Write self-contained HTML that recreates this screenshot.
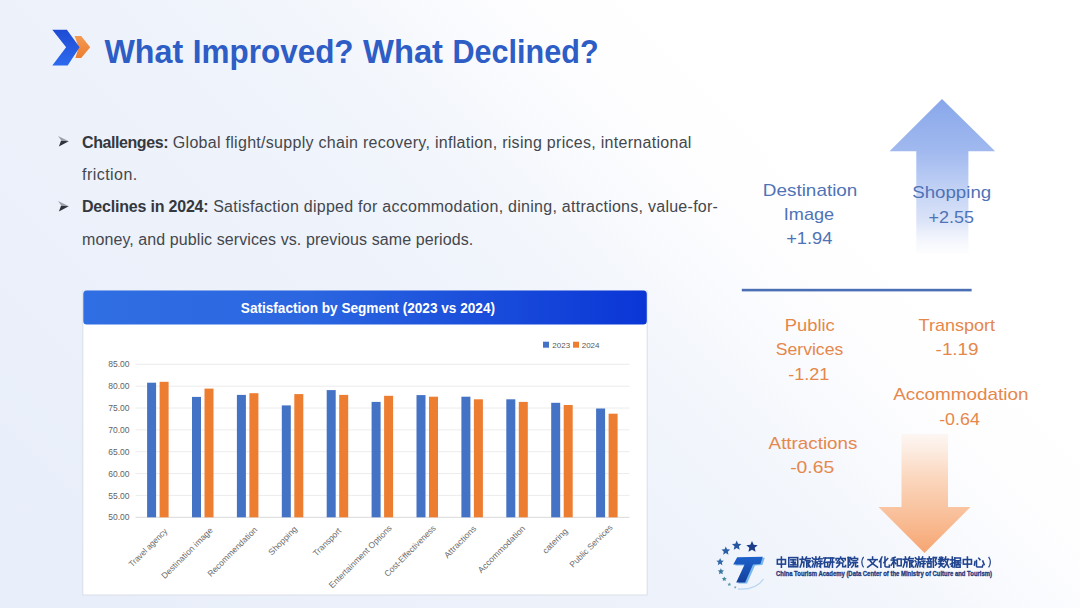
<!DOCTYPE html>
<html><head><meta charset="utf-8">
<style>
*{margin:0;padding:0;box-sizing:border-box}
html,body{width:1080px;height:608px;overflow:hidden}
body{position:relative;font-family:"Liberation Sans",sans-serif;
background:linear-gradient(45deg,#e8eefa 0%,#ecf1fa 30%,#eff3fb 45%,#f4f7fc 56%,#fafbfe 62%,#fefeff 68%,#ffffff 75%);}
.abs{position:absolute;white-space:nowrap}
.bul{position:absolute;left:82px;font-size:16px;color:#44474c;white-space:nowrap;line-height:20px;letter-spacing:0.15px}
.bul b{color:#35383d;letter-spacing:-0.42px}
</style></head>
<body>
<svg class="abs" style="left:0;top:0" width="1080" height="608" viewBox="0 0 1080 608">
<defs>
<linearGradient id="bg2" x1="0" y1="0" x2="0" y2="1"><stop offset="0" stop-color="#1f4bd4"/><stop offset="1" stop-color="#2c6aee"/></linearGradient>
<linearGradient id="og" x1="0" y1="0" x2="0" y2="1"><stop offset="0" stop-color="#f39a55"/><stop offset="1" stop-color="#ec7d2e"/></linearGradient>
<linearGradient id="tg" x1="0" y1="0" x2="0" y2="1"><stop offset="0" stop-color="#1d62cc"/><stop offset="1" stop-color="#143f9c"/></linearGradient>
<linearGradient id="hg" x1="0" y1="0" x2="1" y2="0"><stop offset="0" stop-color="#306ee3"/><stop offset="0.4" stop-color="#2b66e0"/><stop offset="1" stop-color="#0a36d6"/></linearGradient>
<linearGradient id="ug" x1="0" y1="99" x2="0" y2="253" gradientUnits="userSpaceOnUse">
  <stop offset="0" stop-color="#88a7ea"/>
  <stop offset="0.34" stop-color="#a1b9ef"/>
  <stop offset="0.6" stop-color="#c4d3f5"/>
  <stop offset="0.8" stop-color="#dce4f8"/>
  <stop offset="1" stop-color="#f6f8fd" stop-opacity="0.3"/>
</linearGradient>
<linearGradient id="dg" x1="0" y1="434" x2="0" y2="553" gradientUnits="userSpaceOnUse">
  <stop offset="0" stop-color="#fdf1e9" stop-opacity="0.6"/>
  <stop offset="0.2" stop-color="#fce6d7"/>
  <stop offset="0.35" stop-color="#fbd8c0"/>
  <stop offset="0.61" stop-color="#f9c5a2"/>
  <stop offset="0.8" stop-color="#f8b68b"/>
  <stop offset="1" stop-color="#f6a571"/>
</linearGradient>
</defs>
<path d="M74.6 35.9 L81.2 35.9 L90.2 47.2 L81.2 58.1 L75.4 58.1 L78.6 47.2 Z" fill="url(#og)"/>
<path d="M52.3 29.7 L66.9 29.7 L79.6 47.2 L67.7 65.5 L52.3 65.5 L66.1 47.3 Z" fill="url(#bg2)"/>
<text x="104.4" y="63" textLength="78.8" lengthAdjust="spacingAndGlyphs" font-family="Liberation Sans" font-weight="bold" font-size="33" fill="#2d5dc5">What</text>
<text x="192.8" y="63" textLength="160.8" lengthAdjust="spacingAndGlyphs" font-family="Liberation Sans" font-weight="bold" font-size="33" fill="#2d5dc5">Improved?</text>
<text x="363.0" y="63" textLength="80.0" lengthAdjust="spacingAndGlyphs" font-family="Liberation Sans" font-weight="bold" font-size="33" fill="#2d5dc5">What</text>
<text x="452.4" y="63" textLength="146.2" lengthAdjust="spacingAndGlyphs" font-family="Liberation Sans" font-weight="bold" font-size="33" fill="#2d5dc5">Declined?</text>
<path d="M58 136 L68.8 141.2 L61.5 140.8 Z" fill="#9aa0a8"/><path d="M61 140.8 L68.8 141.2 L58.9 146.5 Z" fill="#2f333a"/>
<path d="M58 201 L68.8 206.2 L61.5 205.8 Z" fill="#9aa0a8"/><path d="M61 205.8 L68.8 206.2 L58.9 211.5 Z" fill="#2f333a"/>
<rect x="82.8" y="291" width="564.4" height="304" fill="#ffffff" stroke="#d9dee7" stroke-width="1"/>
<rect x="83.3" y="290.5" width="563.5" height="34" rx="3.5" fill="url(#hg)"/>
<text x="240.8" y="312.7" textLength="254.2" lengthAdjust="spacingAndGlyphs" font-family="Liberation Sans" font-weight="bold" font-size="14" fill="#ffffff">Satisfaction by Segment (2023 vs 2024)</text>
<rect x="543" y="341.7" width="6" height="6" fill="#4472c4"/>
<text x="552.3" y="347.6" font-family="Liberation Sans" font-size="8" fill="#595959">2023</text>
<rect x="573" y="341.7" width="6" height="6" fill="#ed7d31"/>
<text x="581.7" y="347.6" font-family="Liberation Sans" font-size="8" fill="#595959">2024</text>
<line x1="135.5" x2="629.5" y1="517.3" y2="517.3" stroke="#d9d9d9" stroke-width="1"/>
<text x="129.5" y="520.4" text-anchor="end" font-family="Liberation Sans" font-size="8.5" fill="#636363">50.00</text>
<line x1="135.5" x2="629.5" y1="495.4" y2="495.4" stroke="#ececec" stroke-width="1"/>
<text x="129.5" y="498.5" text-anchor="end" font-family="Liberation Sans" font-size="8.5" fill="#636363">55.00</text>
<line x1="135.5" x2="629.5" y1="473.6" y2="473.6" stroke="#ececec" stroke-width="1"/>
<text x="129.5" y="476.7" text-anchor="end" font-family="Liberation Sans" font-size="8.5" fill="#636363">60.00</text>
<line x1="135.5" x2="629.5" y1="451.7" y2="451.7" stroke="#ececec" stroke-width="1"/>
<text x="129.5" y="454.8" text-anchor="end" font-family="Liberation Sans" font-size="8.5" fill="#636363">65.00</text>
<line x1="135.5" x2="629.5" y1="429.9" y2="429.9" stroke="#ececec" stroke-width="1"/>
<text x="129.5" y="433.0" text-anchor="end" font-family="Liberation Sans" font-size="8.5" fill="#636363">70.00</text>
<line x1="135.5" x2="629.5" y1="408.0" y2="408.0" stroke="#ececec" stroke-width="1"/>
<text x="129.5" y="411.1" text-anchor="end" font-family="Liberation Sans" font-size="8.5" fill="#636363">75.00</text>
<line x1="135.5" x2="629.5" y1="386.2" y2="386.2" stroke="#ececec" stroke-width="1"/>
<text x="129.5" y="389.3" text-anchor="end" font-family="Liberation Sans" font-size="8.5" fill="#636363">80.00</text>
<line x1="135.5" x2="629.5" y1="364.3" y2="364.3" stroke="#ececec" stroke-width="1"/>
<text x="129.5" y="367.4" text-anchor="end" font-family="Liberation Sans" font-size="8.5" fill="#636363">85.00</text>
<rect x="147.1" y="382.7" width="9" height="134.6" fill="#4472c4"/>
<rect x="159.6" y="381.8" width="9" height="135.5" fill="#ed7d31"/>
<text x="167.8" y="531.9" text-anchor="end" textLength="50.3" lengthAdjust="spacingAndGlyphs" transform="rotate(-45 167.8 531.9)" font-family="Liberation Sans" font-size="8.5" fill="#6b6b6b">Travel agency</text>
<rect x="192.0" y="396.9" width="9" height="120.4" fill="#4472c4"/>
<rect x="204.5" y="388.6" width="9" height="128.7" fill="#ed7d31"/>
<text x="213.3" y="530.9" text-anchor="end" textLength="68.5" lengthAdjust="spacingAndGlyphs" transform="rotate(-45 213.3 530.9)" font-family="Liberation Sans" font-size="8.5" fill="#6b6b6b">Destination image</text>
<rect x="236.9" y="394.9" width="9" height="122.4" fill="#4472c4"/>
<rect x="249.4" y="393.2" width="9" height="124.1" fill="#ed7d31"/>
<text x="257.8" y="530.4" text-anchor="end" textLength="66.3" lengthAdjust="spacingAndGlyphs" transform="rotate(-45 257.8 530.4)" font-family="Liberation Sans" font-size="8.5" fill="#6b6b6b">Recommendation</text>
<rect x="281.8" y="405.4" width="9" height="111.9" fill="#4472c4"/>
<rect x="294.3" y="394.1" width="9" height="123.2" fill="#ed7d31"/>
<text x="297.8" y="529.7" text-anchor="end" textLength="36.8" lengthAdjust="spacingAndGlyphs" transform="rotate(-45 297.8 529.7)" font-family="Liberation Sans" font-size="8.5" fill="#6b6b6b">Shopping</text>
<rect x="326.7" y="390.1" width="9" height="127.2" fill="#4472c4"/>
<rect x="339.2" y="394.9" width="9" height="122.4" fill="#ed7d31"/>
<text x="341.8" y="531.4" text-anchor="end" textLength="35.9" lengthAdjust="spacingAndGlyphs" transform="rotate(-45 341.8 531.4)" font-family="Liberation Sans" font-size="8.5" fill="#6b6b6b">Transport</text>
<rect x="371.6" y="401.9" width="9" height="115.4" fill="#4472c4"/>
<rect x="384.1" y="395.8" width="9" height="121.5" fill="#ed7d31"/>
<text x="392.4" y="528.7" text-anchor="end" textLength="84.9" lengthAdjust="spacingAndGlyphs" transform="rotate(-45 392.4 528.7)" font-family="Liberation Sans" font-size="8.5" fill="#6b6b6b">Entertainment Options</text>
<rect x="416.5" y="395.1" width="9" height="122.2" fill="#4472c4"/>
<rect x="429.0" y="396.7" width="9" height="120.6" fill="#ed7d31"/>
<text x="436.4" y="528.7" text-anchor="end" textLength="68.7" lengthAdjust="spacingAndGlyphs" transform="rotate(-45 436.4 528.7)" font-family="Liberation Sans" font-size="8.5" fill="#6b6b6b">Cost-Effectiveness</text>
<rect x="461.4" y="396.7" width="9" height="120.6" fill="#4472c4"/>
<rect x="473.9" y="399.3" width="9" height="118.0" fill="#ed7d31"/>
<text x="476.9" y="529.2" text-anchor="end" textLength="41.7" lengthAdjust="spacingAndGlyphs" transform="rotate(-45 476.9 529.2)" font-family="Liberation Sans" font-size="8.5" fill="#6b6b6b">Attractions</text>
<rect x="506.3" y="399.3" width="9" height="118.0" fill="#4472c4"/>
<rect x="518.8" y="401.9" width="9" height="115.4" fill="#ed7d31"/>
<text x="525.8" y="529.0" text-anchor="end" textLength="63" lengthAdjust="spacingAndGlyphs" transform="rotate(-45 525.8 529.0)" font-family="Liberation Sans" font-size="8.5" fill="#6b6b6b">Accommodation</text>
<rect x="551.2" y="402.8" width="9" height="114.5" fill="#4472c4"/>
<rect x="563.7" y="405.0" width="9" height="112.3" fill="#ed7d31"/>
<text x="568.4" y="531.7" text-anchor="end" textLength="31.8" lengthAdjust="spacingAndGlyphs" transform="rotate(-45 568.4 531.7)" font-family="Liberation Sans" font-size="8.5" fill="#6b6b6b">catering</text>
<rect x="596.1" y="408.5" width="9" height="108.8" fill="#4472c4"/>
<rect x="608.6" y="413.7" width="9" height="103.6" fill="#ed7d31"/>
<text x="613.1" y="528.0" text-anchor="end" textLength="56.6" lengthAdjust="spacingAndGlyphs" transform="rotate(-45 613.1 528.0)" font-family="Liberation Sans" font-size="8.5" fill="#6b6b6b">Public Services</text>
<path d="M942 99 L995.2 151.3 L968.4 151.3 L968.4 253 L916.3 253 L916.3 151.3 L889.5 151.3 Z" fill="url(#ug)"/>
<path d="M901.5 434 L948 434 L948 507 L970.5 507 L924.5 553 L878.5 507 L901.5 507 Z" fill="url(#dg)"/>
<rect x="741.8" y="288.8" width="229.8" height="2.6" fill="#4a6fb5"/>
<text x="762.8" y="195.7" textLength="94.6" lengthAdjust="spacingAndGlyphs" font-family="Liberation Sans" font-size="17" fill="#4f73b6">Destination</text>
<text x="783.8" y="220.0" textLength="50.4" lengthAdjust="spacingAndGlyphs" font-family="Liberation Sans" font-size="17" fill="#4f73b6">Image</text>
<text x="786.2" y="243.8" textLength="46.2" lengthAdjust="spacingAndGlyphs" font-family="Liberation Sans" font-size="17" fill="#4f73b6">+1.94</text>
<text x="912.2" y="198.3" textLength="79.0" lengthAdjust="spacingAndGlyphs" font-family="Liberation Sans" font-size="17" fill="#4f73b6">Shopping</text>
<text x="928.6" y="222.8" textLength="45.4" lengthAdjust="spacingAndGlyphs" font-family="Liberation Sans" font-size="17" fill="#4f73b6">+2.55</text>
<text x="784.8" y="330.6" textLength="50.0" lengthAdjust="spacingAndGlyphs" font-family="Liberation Sans" font-size="17" fill="#e5874b">Public</text>
<text x="775.8" y="355.2" textLength="67.4" lengthAdjust="spacingAndGlyphs" font-family="Liberation Sans" font-size="17" fill="#e5874b">Services</text>
<text x="788.2" y="379.8" textLength="41.2" lengthAdjust="spacingAndGlyphs" font-family="Liberation Sans" font-size="17" fill="#e5874b">-1.21</text>
<text x="918.6" y="330.5" textLength="76.4" lengthAdjust="spacingAndGlyphs" font-family="Liberation Sans" font-size="17" fill="#e5874b">Transport</text>
<text x="935.6" y="354.8" textLength="43.0" lengthAdjust="spacingAndGlyphs" font-family="Liberation Sans" font-size="17" fill="#e5874b">-1.19</text>
<text x="893.2" y="400.2" textLength="135.2" lengthAdjust="spacingAndGlyphs" font-family="Liberation Sans" font-size="17" fill="#e5874b">Accommodation</text>
<text x="939.2" y="424.5" textLength="40.6" lengthAdjust="spacingAndGlyphs" font-family="Liberation Sans" font-size="17" fill="#e5874b">-0.64</text>
<text x="768.6" y="448.9" textLength="88.8" lengthAdjust="spacingAndGlyphs" font-family="Liberation Sans" font-size="17" fill="#e5874b">Attractions</text>
<text x="790.2" y="472.7" textLength="44.0" lengthAdjust="spacingAndGlyphs" font-family="Liberation Sans" font-size="17" fill="#e5874b">-0.65</text>
<polygon points="736.70,540.60 738.08,543.70 741.46,544.05 738.93,546.33 739.64,549.65 736.70,547.95 733.76,549.65 734.47,546.33 731.94,544.05 735.32,543.70" fill="#2556a2"/>
<polygon points="752.00,541.00 753.66,544.72 757.71,545.15 754.68,547.87 755.53,551.85 752.00,549.82 748.47,551.85 749.32,547.87 746.29,545.15 750.34,544.72" fill="#1c3d8a"/>
<polygon points="725.80,546.50 727.04,549.29 730.08,549.61 727.81,551.65 728.45,554.64 725.80,553.12 723.15,554.64 723.79,551.65 721.52,549.61 724.56,549.29" fill="#2a5ea6"/>
<polygon points="720.10,558.10 721.18,560.52 723.81,560.79 721.84,562.57 722.39,565.16 720.10,563.83 717.81,565.16 718.36,562.57 716.39,560.79 719.02,560.52" fill="#3068a8"/>
<polygon points="720.90,568.30 721.81,570.35 724.04,570.58 722.38,572.08 722.84,574.27 720.90,573.15 718.96,574.27 719.42,572.08 717.76,570.58 719.99,570.35" fill="#3a78a2"/>
<polygon points="724.30,576.40 725.02,578.01 726.77,578.20 725.46,579.38 725.83,581.10 724.30,580.22 722.77,581.10 723.14,579.38 721.83,578.20 723.58,578.01" fill="#4588a0"/>
<polygon points="729.30,582.40 729.85,583.64 731.20,583.78 730.19,584.69 730.48,586.02 729.30,585.34 728.12,586.02 728.41,584.69 727.40,583.78 728.75,583.64" fill="#5596a2"/>
<polygon points="735.20,585.90 735.59,586.77 736.53,586.87 735.83,587.50 736.02,588.43 735.20,587.96 734.38,588.43 734.57,587.50 733.87,586.87 734.81,586.77" fill="#6aa0b0"/>
<path d="M738 589 Q756 590 763.5 579" fill="none" stroke="#b9d6f2" stroke-width="1.3"/>
<path d="M739.2 558.2 L764.8 557.7 L762.4 565.1 L755 565.6 L747.1 583.4 L738.2 583.4 L746.6 565.6 L735.2 565.6 Z" fill="#79b8ec"/>
<path d="M737.2 557.2 L762.8 556.7 L760.4 564.1 L753 564.6 L745.1 582.4 L736.2 582.4 L744.6 564.6 L733.2 564.6 Z" fill="url(#tg)"/>
<rect x="777.32" y="559.55" width="8.16" height="4.59" fill="none" stroke="#21448f" stroke-width="1.55"/><polyline points="781.40,557.00 781.40,567.20" fill="none" stroke="#21448f" stroke-width="1.55" stroke-linecap="square" stroke-linejoin="miter"/>
<rect x="788.76" y="557.61" width="8.98" height="9.18" fill="none" stroke="#21448f" stroke-width="1.55"/><polyline points="790.70,559.86 795.80,559.86" fill="none" stroke="#21448f" stroke-width="1.55" stroke-linecap="square" stroke-linejoin="miter"/><polyline points="791.21,562.30 795.29,562.30" fill="none" stroke="#21448f" stroke-width="1.55" stroke-linecap="square" stroke-linejoin="miter"/><polyline points="790.50,564.85 796.00,564.85" fill="none" stroke="#21448f" stroke-width="1.55" stroke-linecap="square" stroke-linejoin="miter"/><polyline points="793.25,559.86 793.25,564.85" fill="none" stroke="#21448f" stroke-width="1.55" stroke-linecap="square" stroke-linejoin="miter"/><polyline points="794.68,563.22 795.39,563.94" fill="none" stroke="#21448f" stroke-width="1.55" stroke-linecap="square" stroke-linejoin="miter"/>
<polyline points="802.35,557.00 802.65,558.22" fill="none" stroke="#21448f" stroke-width="1.55" stroke-linecap="square" stroke-linejoin="miter"/><polyline points="800.00,559.35 804.49,559.35" fill="none" stroke="#21448f" stroke-width="1.55" stroke-linecap="square" stroke-linejoin="miter"/><polyline points="801.84,559.35 801.63,563.12 800.20,567.00" fill="none" stroke="#21448f" stroke-width="1.55" stroke-linecap="square" stroke-linejoin="miter"/><polyline points="801.73,562.10 803.98,562.10 803.67,566.79" fill="none" stroke="#21448f" stroke-width="1.55" stroke-linecap="square" stroke-linejoin="miter"/><polyline points="806.43,557.00 805.20,560.06" fill="none" stroke="#21448f" stroke-width="1.55" stroke-linecap="square" stroke-linejoin="miter"/><polyline points="805.81,558.63 810.20,558.63" fill="none" stroke="#21448f" stroke-width="1.55" stroke-linecap="square" stroke-linejoin="miter"/><polyline points="806.12,560.67 809.69,560.67" fill="none" stroke="#21448f" stroke-width="1.55" stroke-linecap="square" stroke-linejoin="miter"/><polyline points="806.73,560.67 806.73,567.20" fill="none" stroke="#21448f" stroke-width="1.55" stroke-linecap="square" stroke-linejoin="miter"/><polyline points="808.16,561.90 808.16,566.38" fill="none" stroke="#21448f" stroke-width="1.55" stroke-linecap="square" stroke-linejoin="miter"/><polyline points="808.16,563.63 810.20,567.20" fill="none" stroke="#21448f" stroke-width="1.55" stroke-linecap="square" stroke-linejoin="miter"/><polyline points="810.10,561.69 808.57,563.12" fill="none" stroke="#21448f" stroke-width="1.55" stroke-linecap="square" stroke-linejoin="miter"/>
<polyline points="812.36,557.82 813.28,558.84" fill="none" stroke="#21448f" stroke-width="1.55" stroke-linecap="square" stroke-linejoin="miter"/><polyline points="812.05,560.88 812.97,561.90" fill="none" stroke="#21448f" stroke-width="1.55" stroke-linecap="square" stroke-linejoin="miter"/><polyline points="812.16,566.79 813.38,563.63" fill="none" stroke="#21448f" stroke-width="1.55" stroke-linecap="square" stroke-linejoin="miter"/><polyline points="815.83,557.00 816.03,558.22" fill="none" stroke="#21448f" stroke-width="1.55" stroke-linecap="square" stroke-linejoin="miter"/><polyline points="814.40,559.24 817.77,559.24" fill="none" stroke="#21448f" stroke-width="1.55" stroke-linecap="square" stroke-linejoin="miter"/><polyline points="815.52,559.24 815.32,563.12 814.40,567.00" fill="none" stroke="#21448f" stroke-width="1.55" stroke-linecap="square" stroke-linejoin="miter"/><polyline points="815.42,562.10 817.26,562.10 816.95,566.69" fill="none" stroke="#21448f" stroke-width="1.55" stroke-linecap="square" stroke-linejoin="miter"/><polyline points="819.60,557.00 818.58,559.55" fill="none" stroke="#21448f" stroke-width="1.55" stroke-linecap="square" stroke-linejoin="miter"/><polyline points="819.09,558.84 822.05,558.84" fill="none" stroke="#21448f" stroke-width="1.55" stroke-linecap="square" stroke-linejoin="miter"/><polyline points="818.89,561.28 821.85,561.28" fill="none" stroke="#21448f" stroke-width="1.55" stroke-linecap="square" stroke-linejoin="miter"/><polyline points="820.52,561.28 820.52,567.00 819.50,566.38" fill="none" stroke="#21448f" stroke-width="1.55" stroke-linecap="square" stroke-linejoin="miter"/><polyline points="818.48,563.73 822.05,563.73" fill="none" stroke="#21448f" stroke-width="1.55" stroke-linecap="square" stroke-linejoin="miter"/>
<polyline points="823.70,558.02 827.78,558.02" fill="none" stroke="#21448f" stroke-width="1.55" stroke-linecap="square" stroke-linejoin="miter"/><polyline points="825.54,558.02 823.90,563.12" fill="none" stroke="#21448f" stroke-width="1.55" stroke-linecap="square" stroke-linejoin="miter"/><rect x="824.62" y="562.30" width="3.06" height="4.49" fill="none" stroke="#21448f" stroke-width="1.55"/><polyline points="828.80,558.02 833.90,558.02" fill="none" stroke="#21448f" stroke-width="1.55" stroke-linecap="square" stroke-linejoin="miter"/><polyline points="828.39,562.10 833.90,562.10" fill="none" stroke="#21448f" stroke-width="1.55" stroke-linecap="square" stroke-linejoin="miter"/><polyline points="830.64,558.02 830.64,562.10 829.00,567.20" fill="none" stroke="#21448f" stroke-width="1.55" stroke-linecap="square" stroke-linejoin="miter"/><polyline points="832.47,558.02 832.47,567.20" fill="none" stroke="#21448f" stroke-width="1.55" stroke-linecap="square" stroke-linejoin="miter"/>
<polyline points="840.65,557.00 840.65,558.02" fill="none" stroke="#21448f" stroke-width="1.55" stroke-linecap="square" stroke-linejoin="miter"/><polyline points="836.06,560.06 836.06,558.53 845.24,558.53 845.24,560.06" fill="none" stroke="#21448f" stroke-width="1.55" stroke-linecap="square" stroke-linejoin="miter"/><polyline points="839.12,559.35 837.59,561.59" fill="none" stroke="#21448f" stroke-width="1.55" stroke-linecap="square" stroke-linejoin="miter"/><polyline points="841.87,559.35 843.71,561.59" fill="none" stroke="#21448f" stroke-width="1.55" stroke-linecap="square" stroke-linejoin="miter"/><polyline points="836.57,562.92 842.69,562.92 842.69,566.69 845.55,566.69 845.55,565.47" fill="none" stroke="#21448f" stroke-width="1.55" stroke-linecap="square" stroke-linejoin="miter"/><polyline points="839.63,561.59 839.43,564.65 836.77,567.20" fill="none" stroke="#21448f" stroke-width="1.55" stroke-linecap="square" stroke-linejoin="miter"/>
<polyline points="848.22,557.51 848.22,567.20" fill="none" stroke="#21448f" stroke-width="1.55" stroke-linecap="square" stroke-linejoin="miter"/><polyline points="848.22,557.61 850.46,557.61 849.44,561.08 850.77,563.63 849.64,565.16" fill="none" stroke="#21448f" stroke-width="1.55" stroke-linecap="square" stroke-linejoin="miter"/><polyline points="854.54,557.00 854.54,558.02" fill="none" stroke="#21448f" stroke-width="1.55" stroke-linecap="square" stroke-linejoin="miter"/><polyline points="851.68,559.65 851.68,558.53 857.60,558.53 857.60,559.65" fill="none" stroke="#21448f" stroke-width="1.55" stroke-linecap="square" stroke-linejoin="miter"/><polyline points="853.01,560.67 856.38,560.67" fill="none" stroke="#21448f" stroke-width="1.55" stroke-linecap="square" stroke-linejoin="miter"/><polyline points="851.99,562.61 857.40,562.61" fill="none" stroke="#21448f" stroke-width="1.55" stroke-linecap="square" stroke-linejoin="miter"/><polyline points="853.83,562.61 853.42,565.16 851.68,567.20" fill="none" stroke="#21448f" stroke-width="1.55" stroke-linecap="square" stroke-linejoin="miter"/><polyline points="855.56,562.61 855.56,566.69 857.60,566.69 857.60,565.67" fill="none" stroke="#21448f" stroke-width="1.55" stroke-linecap="square" stroke-linejoin="miter"/>
<path d="M863.6 556.8 Q860 562 863.6 567.3" fill="none" stroke="#21448f" stroke-width="1.2"/>
<polyline points="872.60,557.00 872.60,558.33" fill="none" stroke="#21448f" stroke-width="1.55" stroke-linecap="square" stroke-linejoin="miter"/><polyline points="868.01,559.65 877.19,559.65" fill="none" stroke="#21448f" stroke-width="1.55" stroke-linecap="square" stroke-linejoin="miter"/><polyline points="870.05,560.57 872.60,563.63 877.50,567.20" fill="none" stroke="#21448f" stroke-width="1.55" stroke-linecap="square" stroke-linejoin="miter"/><polyline points="875.15,560.57 872.60,563.63 867.70,567.20" fill="none" stroke="#21448f" stroke-width="1.55" stroke-linecap="square" stroke-linejoin="miter"/>
<polyline points="882.00,557.00 879.55,561.59" fill="none" stroke="#21448f" stroke-width="1.55" stroke-linecap="square" stroke-linejoin="miter"/><polyline points="880.88,559.86 880.88,567.20" fill="none" stroke="#21448f" stroke-width="1.55" stroke-linecap="square" stroke-linejoin="miter"/><polyline points="887.71,558.53 883.94,562.61" fill="none" stroke="#21448f" stroke-width="1.55" stroke-linecap="square" stroke-linejoin="miter"/><polyline points="884.96,557.00 884.96,566.18 885.98,567.00 889.35,567.00 889.35,565.16" fill="none" stroke="#21448f" stroke-width="1.55" stroke-linecap="square" stroke-linejoin="miter"/>
<polyline points="895.08,557.31 892.22,558.22" fill="none" stroke="#21448f" stroke-width="1.55" stroke-linecap="square" stroke-linejoin="miter"/><polyline points="891.20,560.06 896.10,560.06" fill="none" stroke="#21448f" stroke-width="1.55" stroke-linecap="square" stroke-linejoin="miter"/><polyline points="893.75,557.82 893.75,567.20" fill="none" stroke="#21448f" stroke-width="1.55" stroke-linecap="square" stroke-linejoin="miter"/><polyline points="893.75,561.08 891.20,565.16" fill="none" stroke="#21448f" stroke-width="1.55" stroke-linecap="square" stroke-linejoin="miter"/><polyline points="893.95,561.59 895.79,563.63" fill="none" stroke="#21448f" stroke-width="1.55" stroke-linecap="square" stroke-linejoin="miter"/><rect x="897.32" y="559.04" width="3.88" height="6.73" fill="none" stroke="#21448f" stroke-width="1.55"/>
<polyline points="905.40,557.00 905.70,558.22" fill="none" stroke="#21448f" stroke-width="1.55" stroke-linecap="square" stroke-linejoin="miter"/><polyline points="903.05,559.35 907.54,559.35" fill="none" stroke="#21448f" stroke-width="1.55" stroke-linecap="square" stroke-linejoin="miter"/><polyline points="904.89,559.35 904.68,563.12 903.25,567.00" fill="none" stroke="#21448f" stroke-width="1.55" stroke-linecap="square" stroke-linejoin="miter"/><polyline points="904.78,562.10 907.03,562.10 906.72,566.79" fill="none" stroke="#21448f" stroke-width="1.55" stroke-linecap="square" stroke-linejoin="miter"/><polyline points="909.48,557.00 908.25,560.06" fill="none" stroke="#21448f" stroke-width="1.55" stroke-linecap="square" stroke-linejoin="miter"/><polyline points="908.86,558.63 913.25,558.63" fill="none" stroke="#21448f" stroke-width="1.55" stroke-linecap="square" stroke-linejoin="miter"/><polyline points="909.17,560.67 912.74,560.67" fill="none" stroke="#21448f" stroke-width="1.55" stroke-linecap="square" stroke-linejoin="miter"/><polyline points="909.78,560.67 909.78,567.20" fill="none" stroke="#21448f" stroke-width="1.55" stroke-linecap="square" stroke-linejoin="miter"/><polyline points="911.21,561.90 911.21,566.38" fill="none" stroke="#21448f" stroke-width="1.55" stroke-linecap="square" stroke-linejoin="miter"/><polyline points="911.21,563.63 913.25,567.20" fill="none" stroke="#21448f" stroke-width="1.55" stroke-linecap="square" stroke-linejoin="miter"/><polyline points="913.15,561.69 911.62,563.12" fill="none" stroke="#21448f" stroke-width="1.55" stroke-linecap="square" stroke-linejoin="miter"/>
<polyline points="915.41,557.82 916.33,558.84" fill="none" stroke="#21448f" stroke-width="1.55" stroke-linecap="square" stroke-linejoin="miter"/><polyline points="915.10,560.88 916.02,561.90" fill="none" stroke="#21448f" stroke-width="1.55" stroke-linecap="square" stroke-linejoin="miter"/><polyline points="915.21,566.79 916.43,563.63" fill="none" stroke="#21448f" stroke-width="1.55" stroke-linecap="square" stroke-linejoin="miter"/><polyline points="918.88,557.00 919.08,558.22" fill="none" stroke="#21448f" stroke-width="1.55" stroke-linecap="square" stroke-linejoin="miter"/><polyline points="917.45,559.24 920.82,559.24" fill="none" stroke="#21448f" stroke-width="1.55" stroke-linecap="square" stroke-linejoin="miter"/><polyline points="918.57,559.24 918.37,563.12 917.45,567.00" fill="none" stroke="#21448f" stroke-width="1.55" stroke-linecap="square" stroke-linejoin="miter"/><polyline points="918.47,562.10 920.31,562.10 920.00,566.69" fill="none" stroke="#21448f" stroke-width="1.55" stroke-linecap="square" stroke-linejoin="miter"/><polyline points="922.65,557.00 921.63,559.55" fill="none" stroke="#21448f" stroke-width="1.55" stroke-linecap="square" stroke-linejoin="miter"/><polyline points="922.14,558.84 925.10,558.84" fill="none" stroke="#21448f" stroke-width="1.55" stroke-linecap="square" stroke-linejoin="miter"/><polyline points="921.94,561.28 924.90,561.28" fill="none" stroke="#21448f" stroke-width="1.55" stroke-linecap="square" stroke-linejoin="miter"/><polyline points="923.57,561.28 923.57,567.00 922.55,566.38" fill="none" stroke="#21448f" stroke-width="1.55" stroke-linecap="square" stroke-linejoin="miter"/><polyline points="921.53,563.73 925.10,563.73" fill="none" stroke="#21448f" stroke-width="1.55" stroke-linecap="square" stroke-linejoin="miter"/>
<polyline points="929.30,557.00 929.30,558.02" fill="none" stroke="#21448f" stroke-width="1.55" stroke-linecap="square" stroke-linejoin="miter"/><polyline points="927.26,558.84 931.65,558.84" fill="none" stroke="#21448f" stroke-width="1.55" stroke-linecap="square" stroke-linejoin="miter"/><polyline points="928.08,559.55 928.59,561.08" fill="none" stroke="#21448f" stroke-width="1.55" stroke-linecap="square" stroke-linejoin="miter"/><polyline points="930.83,559.55 930.32,561.08" fill="none" stroke="#21448f" stroke-width="1.55" stroke-linecap="square" stroke-linejoin="miter"/><polyline points="926.75,561.90 931.85,561.90" fill="none" stroke="#21448f" stroke-width="1.55" stroke-linecap="square" stroke-linejoin="miter"/><rect x="927.57" y="563.43" width="3.47" height="3.57" fill="none" stroke="#21448f" stroke-width="1.55"/><polyline points="933.38,557.51 933.38,567.20" fill="none" stroke="#21448f" stroke-width="1.55" stroke-linecap="square" stroke-linejoin="miter"/><polyline points="933.38,557.61 936.44,557.61 935.22,561.08 936.75,563.63 935.42,565.16" fill="none" stroke="#21448f" stroke-width="1.55" stroke-linecap="square" stroke-linejoin="miter"/>
<polyline points="939.62,557.51 940.44,558.84" fill="none" stroke="#21448f" stroke-width="1.55" stroke-linecap="square" stroke-linejoin="miter"/><polyline points="942.68,557.51 941.97,558.84" fill="none" stroke="#21448f" stroke-width="1.55" stroke-linecap="square" stroke-linejoin="miter"/><polyline points="938.60,559.45 943.70,559.45" fill="none" stroke="#21448f" stroke-width="1.55" stroke-linecap="square" stroke-linejoin="miter"/><polyline points="941.15,557.00 941.15,561.59" fill="none" stroke="#21448f" stroke-width="1.55" stroke-linecap="square" stroke-linejoin="miter"/><polyline points="941.15,559.55 938.91,561.59" fill="none" stroke="#21448f" stroke-width="1.55" stroke-linecap="square" stroke-linejoin="miter"/><polyline points="941.25,559.86 943.50,561.28" fill="none" stroke="#21448f" stroke-width="1.55" stroke-linecap="square" stroke-linejoin="miter"/><polyline points="938.60,563.73 943.70,563.73" fill="none" stroke="#21448f" stroke-width="1.55" stroke-linecap="square" stroke-linejoin="miter"/><polyline points="940.64,562.10 939.82,564.14 943.19,567.00" fill="none" stroke="#21448f" stroke-width="1.55" stroke-linecap="square" stroke-linejoin="miter"/><polyline points="942.48,563.73 939.11,567.20" fill="none" stroke="#21448f" stroke-width="1.55" stroke-linecap="square" stroke-linejoin="miter"/><polyline points="945.74,557.00 944.72,560.57" fill="none" stroke="#21448f" stroke-width="1.55" stroke-linecap="square" stroke-linejoin="miter"/><polyline points="945.23,559.35 948.80,559.35" fill="none" stroke="#21448f" stroke-width="1.55" stroke-linecap="square" stroke-linejoin="miter"/><polyline points="947.98,559.35 946.76,563.63 944.21,567.20" fill="none" stroke="#21448f" stroke-width="1.55" stroke-linecap="square" stroke-linejoin="miter"/><polyline points="945.74,561.59 948.80,567.20" fill="none" stroke="#21448f" stroke-width="1.55" stroke-linecap="square" stroke-linejoin="miter"/>
<polyline points="950.45,559.86 953.82,559.86" fill="none" stroke="#21448f" stroke-width="1.55" stroke-linecap="square" stroke-linejoin="miter"/><polyline points="952.29,557.00 952.29,566.69 951.47,566.18" fill="none" stroke="#21448f" stroke-width="1.55" stroke-linecap="square" stroke-linejoin="miter"/><polyline points="950.45,564.14 954.02,562.61" fill="none" stroke="#21448f" stroke-width="1.55" stroke-linecap="square" stroke-linejoin="miter"/><polyline points="954.84,560.88 960.45,560.88 960.45,558.02 954.84,558.02" fill="none" stroke="#21448f" stroke-width="1.55" stroke-linecap="square" stroke-linejoin="miter"/><polyline points="954.84,558.02 954.84,563.63 954.02,567.20" fill="none" stroke="#21448f" stroke-width="1.55" stroke-linecap="square" stroke-linejoin="miter"/><polyline points="955.55,562.92 960.65,562.92" fill="none" stroke="#21448f" stroke-width="1.55" stroke-linecap="square" stroke-linejoin="miter"/><polyline points="958.10,560.88 958.10,564.65" fill="none" stroke="#21448f" stroke-width="1.55" stroke-linecap="square" stroke-linejoin="miter"/><rect x="956.06" y="564.75" width="4.08" height="2.45" fill="none" stroke="#21448f" stroke-width="1.55"/>
<rect x="963.32" y="559.55" width="8.16" height="4.59" fill="none" stroke="#21448f" stroke-width="1.55"/><polyline points="967.40,557.00 967.40,567.20" fill="none" stroke="#21448f" stroke-width="1.55" stroke-linecap="square" stroke-linejoin="miter"/>
<polyline points="974.97,561.59 974.46,565.16" fill="none" stroke="#21448f" stroke-width="1.55" stroke-linecap="square" stroke-linejoin="miter"/><polyline points="976.50,560.57 976.50,566.38 977.21,567.00 982.31,567.00 982.82,565.16" fill="none" stroke="#21448f" stroke-width="1.55" stroke-linecap="square" stroke-linejoin="miter"/><polyline points="978.74,558.22 979.96,559.75" fill="none" stroke="#21448f" stroke-width="1.55" stroke-linecap="square" stroke-linejoin="miter"/><polyline points="982.82,561.08 984.15,564.65" fill="none" stroke="#21448f" stroke-width="1.55" stroke-linecap="square" stroke-linejoin="miter"/>
<path d="M988.6 556.8 Q992.2 562 988.6 567.3" fill="none" stroke="#21448f" stroke-width="1.2"/>
<text x="776" y="576" textLength="216" lengthAdjust="spacingAndGlyphs" font-family="Liberation Sans" font-weight="bold" font-size="6.6" fill="#1c3a80" stroke="#1c3a80" stroke-width="0.3">China Tourism Academy (Data Center of the Ministry of Culture and Tourism)</text>
</svg>
<div class="bul" style="top:132.6px;letter-spacing:0.29px"><b>Challenges:</b> Global flight/supply chain recovery, inflation, rising prices, international</div>
<div class="bul" style="top:165.4px;letter-spacing:0.45px">friction.</div>
<div class="bul" style="top:197.4px;letter-spacing:0.265px"><b style="letter-spacing:-0.2px">Declines in 2024:</b> Satisfaction dipped for accommodation, dining, attractions, value-for-</div>
<div class="bul" style="top:229.5px;letter-spacing:0.09px">money, and public services vs. previous same periods.</div>
</body></html>
